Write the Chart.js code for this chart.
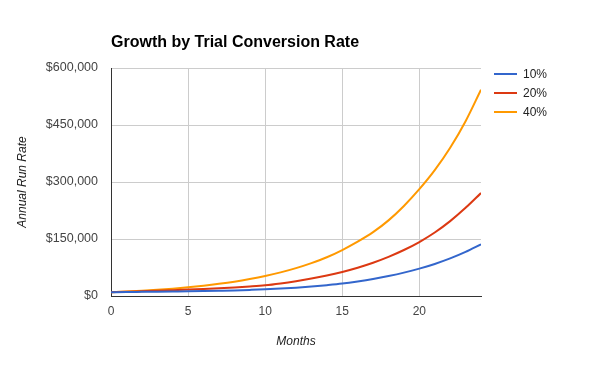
<!DOCTYPE html>
<html>
<head>
<meta charset="utf-8">
<script src="https://cdn.jsdelivr.net/npm/chart.js@4"></script>
<style>
html,body{margin:0;padding:0;background:#fff;}
#wrap{width:593px;height:365px;position:relative;}
</style>
</head>
<body>
<div id="wrap"><canvas id="c" width="593" height="365"></canvas></div>
<script>
const chartTitle = "Growth by Trial Conversion Rate";
const xTitle = "Months";
const yTitle = "Annual Run Rate";
const months = [0,1,2,3,4,5,6,7,8,9,10,11,12,13,14,15,16,17,18,19,20,21,22,23,24];
const seriesNames = ["10%", "20%", "40%"];
const series10 = [10000,10400,10900,11400,11900,12400,13100,13900,14800,16100,17600,19600,22000,25000,28600,32800,38400,44900,52600,61500,72000,84400,98900,116000,136000];
const series20 = [10000,11200,12500,13800,15200,16800,18500,20400,22600,25100,28200,33100,39000,45800,53900,63400,74500,87600,103000,121000,142000,167000,197000,232000,271000];
const series40 = [10000,11800,13900,16500,19400,22900,27100,32000,37700,44600,52600,62100,73400,86600,102000,121000,143000,168000,199000,237000,281000,331000,390000,460000,543000];
const yTicks = [0,150000,300000,450000,600000];
const xTicks = [0,5,10,15,20];
const colors = ["#3366cc", "#dc3912", "#ff9900"];

const FONT = "Arial, 'Liberation Sans', sans-serif";
const allSeries = [series10, series20, series40];

const datasets = allSeries.map((s, i) => ({
  label: seriesNames[i],
  data: months.map((m, j) => ({x: m, y: s[j]})),
  borderColor: colors[i],
  backgroundColor: colors[i],
  borderWidth: 2,
  pointRadius: 0,
  pointHoverRadius: 0,
  cubicInterpolationMode: 'monotone',
  fill: false
}));

const overlay = {
  id: 'overlay',
  afterDraw(chart) {
    const ctx = chart.ctx;
    const a = chart.chartArea;
    ctx.save();
    ctx.fillStyle = '#000';
    ctx.font = "bold 16px " + FONT;
    ctx.textAlign = 'left';
    ctx.textBaseline = 'alphabetic';
    ctx.fillText(chartTitle, a.left, 47);
    // legend
    ctx.font = "12px " + FONT;
    ctx.textBaseline = 'middle';
    seriesNames.forEach((n, i) => {
      const y = 74 + i * 19;
      ctx.strokeStyle = colors[i];
      ctx.lineWidth = 2;
      ctx.beginPath();
      ctx.moveTo(494, y);
      ctx.lineTo(517, y);
      ctx.stroke();
      ctx.fillStyle = '#222';
      ctx.fillText(n, 523, y + 0.5);
    });
    ctx.restore();
  }
};

new Chart(document.getElementById('c'), {
  type: 'line',
  data: { datasets },
  plugins: [overlay],
  options: {
    responsive: false,
    animation: false,
    layout: { padding: { top: 68, right: 112, left: 0, bottom: 0 } },
    plugins: { legend: { display: false }, title: { display: false }, tooltip: { enabled: false } },
    scales: {
      x: {
        type: 'linear',
        min: 0, max: 24,
        afterFit(s) { s.height = 69; },
        afterBuildTicks(s) { s.ticks = xTicks.map(v => ({value: v})); },
        ticks: { includeBounds: false, stepSize: 5, color: '#444', padding: 8, font: { family: FONT, size: 12 } },
        grid: { color: '#cccccc', lineWidth: 1, drawTicks: false },
        border: { color: '#333333', width: 1 },
        title: { display: true, text: xTitle, color: '#222', padding: { top: 0, bottom: 16 }, font: { family: FONT, size: 12, style: 'italic' } }
      },
      y: {
        min: 0, max: 600000,
        afterFit(s) { s.width = 111; },
        afterBuildTicks(s) { s.ticks = yTicks.map(v => ({value: v})); },
        ticks: {
          color: '#444', padding: 13, font: { family: FONT, size: 12.5 },
          callback: v => '$' + Number(v).toLocaleString('en-US')
        },
        grid: { color: '#cccccc', lineWidth: 1, drawTicks: false },
        border: { color: '#333333', width: 1 },
        title: { display: true, text: yTitle, color: '#222', padding: { top: 15, bottom: 0 }, font: { family: FONT, size: 12, style: 'italic' } }
      }
    }
  }
});
</script>
</body>
</html>
